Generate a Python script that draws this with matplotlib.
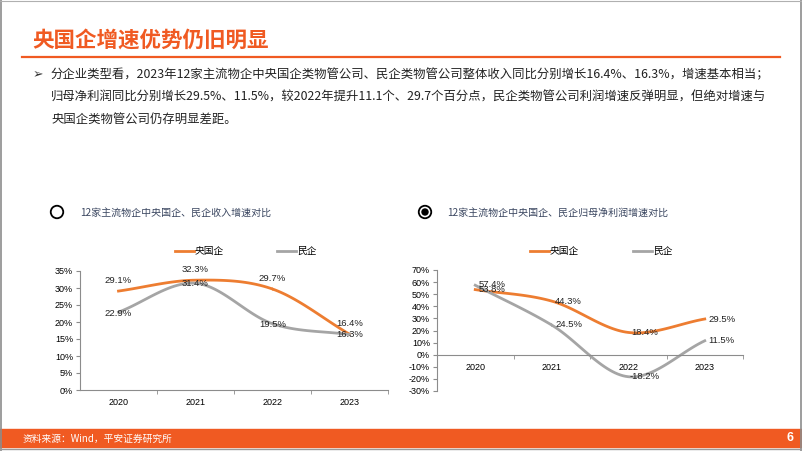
import numpy as np
import matplotlib.pyplot as plt
from matplotlib.patches import Rectangle, Ellipse
from matplotlib.lines import Line2D

plt.rcParams['font.family'] = ['Noto Sans CJK SC', 'DejaVu Sans']

years = ['2020', '2021', '2022', '2023']
rev_soe = [29.1, 32.3, 29.7, 16.4]
rev_pri = [22.9, 31.4, 19.5, 16.3]
np_soe = [53.8, 44.3, 18.4, 29.5]
np_pri = [57.4, 24.5, -18.2, 11.5]

ORANGE = '#ED7D31'
GRAY = '#A5A5A5'
BRAND = '#F05A22'
NUMFONT = ['Liberation Sans', 'Noto Sans CJK SC']

W, H = 802, 451
fig = plt.figure(figsize=(W / 100, H / 100), dpi=100)


def px(x, y):
    return x / W, 1 - y / H


def box(l, t, r, b):
    return [l / W, 1 - b / H, (r - l) / W, (b - t) / H]


def smooth(xs, ys, n=30):
    # catmull-rom curve through the points, similar to excel smoothed lines
    p = np.column_stack([xs, ys]).astype(float)
    p = np.vstack([p[0] - (p[1] - p[0]), p, p[-1] + (p[-1] - p[-2])])
    out = []
    for i in range(1, len(p) - 2):
        p0, p1, p2, p3 = p[i - 1], p[i], p[i + 1], p[i + 2]
        t = np.linspace(0, 1, n)[:, None]
        seg = 0.5 * ((2 * p1) + (-p0 + p2) * t + (2 * p0 - 5 * p1 + 4 * p2 - p3) * t ** 2
                     + (-p0 + 3 * p1 - 3 * p2 + p3) * t ** 3)
        out.append(seg)
    out = np.vstack(out)
    return out[:, 0], out[:, 1]


def circle(x, y, d, **kw):
    fig.add_artist(Ellipse(px(x, y), d / W, d / H, transform=fig.transFigure, **kw))


# slide frame
fig.add_artist(Line2D([0.5 / W, 0.5 / W], [0, 1], color='#8C8C8C', lw=1.2))
fig.add_artist(Line2D([1 - 1.5 / W, 1 - 1.5 / W], [0, 1], color='#8C8C8C', lw=1.2))
fig.add_artist(Line2D([0, 1], [1 - 0.5 / H, 1 - 0.5 / H], color='#B0B0B0', lw=0.8))

# title
fig.text(*px(32, 40), '央国企增速优势仍旧明显', color=BRAND, fontsize=15.5,
         fontweight='bold', va='center', ha='left')
fig.add_artist(Line2D([22 / W, 780 / W], [1 - 57 / H] * 2, color=BRAND, lw=1.6))

# bullet text
fig.text(*px(33, 75), '➢', fontsize=9, va='center', ha='left',
         family=['DejaVu Sans'], color='#333333')
lines = ['分企业类型看，2023年12家主流物企中央国企类物管公司、民企类物管公司整体收入同比分别增长16.4%、16.3%，增速基本相当；',
         '归母净利润同比分别增长29.5%、11.5%，较2022年提升11.1个、29.7个百分点，民企类物管公司利润增速反弹明显，但绝对增速与',
         '央国企类物管公司仍存明显差距。']
for i, s in enumerate(lines):
    fig.text(*px(51, 75 + 22 * i), s, fontsize=8.9, va='center', ha='left', color='#222222')

# chart headers
circle(57, 212, 12.5, fill=False, ec='black', lw=1.3)
fig.text(*px(80, 213), '12家主流物企中央国企、民企收入增速对比', fontsize=7.2,
         color='#3A4660', va='center', ha='left')
circle(425, 212, 12.5, fill=False, ec='black', lw=1.3)
circle(425, 212, 6, color='black')
fig.text(*px(447, 213), '12家主流物企中央国企、民企归母净利润增速对比', fontsize=7.2,
         color='#3A4660', va='center', ha='left')


def legend(x1, x2, y):
    fig.add_artist(Line2D([x1 / W, (x1 + 19) / W], [1 - y / H] * 2, color=ORANGE, lw=2))
    fig.text(*px(x1 + 20, y), '央国企', fontsize=7, va='center', ha='left')
    fig.add_artist(Line2D([x2 / W, (x2 + 19) / W], [1 - y / H] * 2, color=GRAY, lw=2))
    fig.text(*px(x2 + 20, y), '民企', fontsize=7, va='center', ha='left')


def setup(ax, lo, hi, step):
    ax.set_xlim(-0.5, 3.5)
    ax.set_ylim(lo, hi)
    for s in ['top', 'right']:
        ax.spines[s].set_visible(False)
    ax.spines['left'].set_color('#8C8C8C')
    ax.spines['bottom'].set_color('#8C8C8C')
    ax.set_yticks(np.arange(lo, hi + 1, step))
    ax.set_yticklabels([f'{v}%' for v in np.arange(lo, hi + 1, step)], family=NUMFONT, fontsize=6.5)
    ax.set_xticks(range(4))
    ax.set_xticklabels(years, family=NUMFONT, fontsize=6.5)
    ax.set_xticks([0.5, 1.5, 2.5, 3.5], minor=True)
    ax.tick_params(axis='x', which='major', length=0, pad=6)
    ax.tick_params(axis='x', which='minor', length=3, color='#8C8C8C')
    ax.tick_params(axis='y', length=3, color='#8C8C8C', pad=2)
    ax.patch.set_alpha(0)


def label(ax, i, v, dx, dy):
    ax.annotate(f'{v:.1f}%', (i + dx, v), xytext=(0, dy), textcoords='offset points',
                ha='center', va='center', fontsize=6.8, family=NUMFONT, color='#222222')


x = np.arange(4)

# left chart
legend(175, 277, 251)
ax1 = fig.add_axes(box(80, 271, 388, 390))
setup(ax1, 0, 35, 5)
sx, sy = smooth(x, rev_soe)
ax1.plot(sx, sy, color=ORANGE, lw=2)
sx, sy = smooth(x, rev_pri)
ax1.plot(sx, sy, color=GRAY, lw=2)
soe_dy = [7.5, 7.5, 7.5, 7.5]
pri_dy = [-1, 0, -0.5, 0]
for i in range(4):
    label(ax1, i, rev_soe[i], 0, soe_dy[i])
    label(ax1, i, rev_pri[i], 0, pri_dy[i])

# right chart
legend(530, 633, 251)
ax2 = fig.add_axes(box(437, 270, 743, 391))
ax2.spines['bottom'].set_position(('data', 0))
setup(ax2, -30, 70, 10)
sx, sy = smooth(x, np_soe)
ax2.plot(sx, sy, color=ORANGE, lw=2)
sx, sy = smooth(x, np_pri)
ax2.plot(sx, sy, color=GRAY, lw=2)
for i in range(4):
    label(ax2, i, np_soe[i], 0.22, 0)
    label(ax2, i, np_pri[i], 0.22, 0.5)

# footer
fig.add_artist(Rectangle(px(0, 447), 1, 18 / H, transform=fig.transFigure, color=BRAND))
fig.add_artist(Line2D([0, 1], [1 - 449 / H] * 2, color='#9A9A9A', lw=1))
fig.text(*px(23, 439), '资料来源：Wind，平安证券研究所', fontsize=7, color='white',
         va='center', ha='left')
fig.text(*px(790, 438), '6', fontsize=9, color='white', va='center', ha='center',
         fontweight='bold', family=NUMFONT)

fig.savefig('out.png', dpi=100)
